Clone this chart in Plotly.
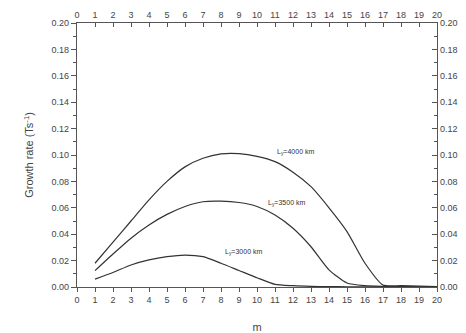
import plotly.graph_objects as go

m = list(range(1, 21))
ly4000 = [0.018, 0.034, 0.050, 0.066, 0.080, 0.091, 0.0975, 0.1008, 0.101, 0.099,
          0.095, 0.087, 0.076, 0.060, 0.042, 0.018, 0.0015, 0.001, 0.0006, 0.0003]
ly3500 = [0.0124, 0.025, 0.037, 0.047, 0.055, 0.061, 0.0646, 0.065, 0.064, 0.061,
          0.0545, 0.0445, 0.0305, 0.013, 0.003, 0.001, 0.0005, 0.0003, 0.0002, 0.0001]
ly3000 = [0.006, 0.011, 0.0167, 0.0205, 0.023, 0.0242, 0.023, 0.018, 0.0125, 0.007,
          0.002, 0.001, 0.0005, 0.0003, 0.0002, 0.0001, 0.0001, 0.0, 0.0, 0.0]

labels = ["L<sub>y</sub>=4000 km", "L<sub>y</sub>=3500 km", "L<sub>y</sub>=3000 km"]
label_x = [11.0, 10.5, 8.1]
label_y = [0.102, 0.0636, 0.0265]

xticks = list(range(0, 21))
yticks = [0.00, 0.02, 0.04, 0.06, 0.08, 0.10, 0.12, 0.14, 0.16, 0.18, 0.20]

line_col = "#333333"
axis_col = "#555555"
font = "Liberation Sans, Arial, sans-serif"

fig = go.Figure()
for ys in (ly4000, ly3500, ly3000):
    fig.add_trace(go.Scatter(x=m, y=ys, mode="lines",
                             line=dict(color=line_col, width=1.2, shape="spline", smoothing=0.6),
                             showlegend=False, hoverinfo="skip"))
# invisible trace for the mirrored axes
fig.add_trace(go.Scatter(x=[0, 20], y=[0, 0.2], xaxis="x2", yaxis="y2",
                         mode="markers", marker=dict(opacity=0),
                         showlegend=False, hoverinfo="skip"))

for t, x, y in zip(labels, label_x, label_y):
    fig.add_annotation(x=x, y=y, text=t, showarrow=False, xanchor="left",
                       yanchor="middle", font=dict(size=7, color="#333333", family=font))

common = dict(showline=True, linecolor=axis_col, linewidth=1.2, showgrid=False,
              zeroline=False, tickcolor=axis_col, automargin=False,
              tickfont=dict(size=9, color="#444444", family=font))

fig.update_layout(
    width=458, height=325,
    margin=dict(l=69, r=29, t=15, b=46),
    paper_bgcolor="white", plot_bgcolor="white",
    font=dict(family=font),
    xaxis=dict(range=[0, 20], tickvals=xticks, ticks="outside", ticklen=4,
               title=dict(text="m", font=dict(size=11, color="#444444"), standoff=21),
               **common),
    xaxis2=dict(range=[0, 20], tickvals=xticks, ticks="inside", ticklen=4,
                overlaying="x", side="top", anchor="y", **common),
    yaxis=dict(range=[0, 0.2], tickvals=yticks, tickformat=".2f", ticks="outside",
               ticklen=5, minor=dict(dtick=0.01, ticks="outside", ticklen=3, tickcolor=axis_col),
               title=dict(text="Growth rate (Ts<sup>-1</sup>)", font=dict(size=11, color="#444444"),
                          standoff=15),
               **common),
    yaxis2=dict(range=[0, 0.2], tickvals=yticks, tickformat=".2f", ticks="inside",
                ticklen=5, minor=dict(dtick=0.01, ticks="inside", ticklen=3, tickcolor=axis_col),
                overlaying="y", side="right", anchor="x", **common),
)

fig.write_html("out.html")
